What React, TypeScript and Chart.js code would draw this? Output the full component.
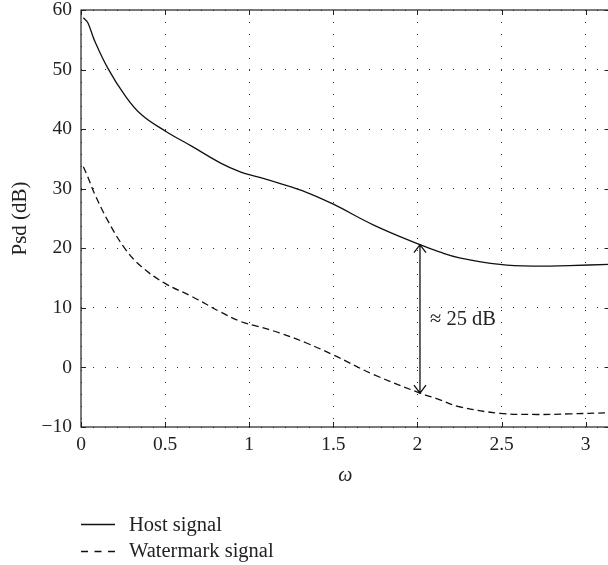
import React, { useEffect, useRef } from 'react';
import { Chart, registerables } from 'chart.js';

Chart.register(...registerables);

// ---- data ----
const omega = [0.014, 0.04, 0.08, 0.16, 0.26, 0.36, 0.5, 0.66, 0.83, 0.95, 1.05, 1.18, 1.34, 1.5, 1.74, 2.015, 2.13, 2.25, 2.49, 2.71, 2.9, 3.14];
const hostPsd = [58.7, 57.9, 54.9, 50.2, 45.7, 42.4, 39.7, 37.1, 34.3, 32.8, 32.0, 30.9, 29.4, 27.4, 23.9, 20.6, 19.4, 18.4, 17.3, 17.0, 17.1, 17.3];
const watermarkPsd = [33.7, 32.0, 29.2, 24.6, 20.0, 16.9, 14.1, 11.9, 9.3, 7.7, 6.9, 5.8, 4.1, 2.1, -1.2, -4.3, -5.4, -6.6, -7.7, -7.9, -7.8, -7.6];
const seriesLabels = ['Host signal', 'Watermark signal'];
const xTicks = [0, 0.5, 1, 1.5, 2, 2.5, 3];
const yTicks = [-10, 0, 10, 20, 30, 40, 50, 60];
const xTitle = 'ω';
const yTitle = 'Psd (dB)';
const arrowOmega = 2.015;
const arrowTop = 20.6;
const arrowBottom = -4.3;
const annotationText = '≈ 25 dB';
const annotationOmega = 2.075;
const annotationValue = 7.15;

const FONT = "'Liberation Serif', 'DejaVu Serif', serif";
const INK = '#222';
const DASH = [7, 4];

const framePlugin = {
  id: 'frame',
  afterDatasetsDraw(chart: any) {
    const { ctx, chartArea, scales } = chart;
    const x = scales.x;
    const y = scales.y;
    const { left, right, top, bottom } = chartArea;
    ctx.save();
    ctx.strokeStyle = INK;
    ctx.lineWidth = 1.2;
    ctx.setLineDash([]);
    ctx.strokeRect(left, top, right - left, bottom - top);
    const tl = 5;
    ctx.lineWidth = 1;
    ctx.beginPath();
    xTicks.forEach((v) => {
      const px = Math.round(x.getPixelForValue(v)) + 0.5;
      ctx.moveTo(px, bottom); ctx.lineTo(px, bottom - tl);
      ctx.moveTo(px, top); ctx.lineTo(px, top + tl);
    });
    yTicks.forEach((v) => {
      const py = Math.round(y.getPixelForValue(v)) + 0.5;
      ctx.moveTo(left, py); ctx.lineTo(left + tl, py);
      ctx.moveTo(right, py); ctx.lineTo(right - tl, py);
    });
    ctx.stroke();

    const ax = x.getPixelForValue(arrowOmega);
    const ay1 = y.getPixelForValue(arrowTop);
    const ay2 = y.getPixelForValue(arrowBottom);
    ctx.lineWidth = 1.3;
    ctx.strokeStyle = '#111';
    ctx.beginPath();
    ctx.moveTo(ax, ay1); ctx.lineTo(ax, ay2);
    ctx.moveTo(ax - 6, ay1 + 8); ctx.lineTo(ax, ay1); ctx.lineTo(ax + 6, ay1 + 8);
    ctx.moveTo(ax - 6, ay2 - 8); ctx.lineTo(ax, ay2); ctx.lineTo(ax + 6, ay2 - 8);
    ctx.stroke();

    ctx.fillStyle = INK;
    ctx.font = `20.5px ${FONT}`;
    ctx.textAlign = 'left';
    ctx.textBaseline = 'alphabetic';
    ctx.fillText(annotationText, x.getPixelForValue(annotationOmega), y.getPixelForValue(annotationValue));

    const lx1 = 81, lx2 = 115, tx = 129;
    const rows = [
      { label: seriesLabels[0], dash: [] as number[], ly: 524, ty: 530.5 },
      { label: seriesLabels[1], dash: [7, 6.5], ly: 551, ty: 557 },
    ];
    rows.forEach((r) => {
      ctx.beginPath();
      ctx.setLineDash(r.dash);
      ctx.lineWidth = 1.3;
      ctx.strokeStyle = '#111';
      ctx.moveTo(lx1, r.ly + 0.5); ctx.lineTo(lx2, r.ly + 0.5);
      ctx.stroke();
      ctx.setLineDash([]);
      ctx.fillText(r.label, tx, r.ty);
    });
    ctx.restore();
  },
};

export default function App() {
  const ref = useRef<HTMLCanvasElement>(null);
  useEffect(() => {
    if (!ref.current) return;
    const chart = new Chart(ref.current, {
      type: 'line',
      data: {
        datasets: [
          {
            label: seriesLabels[0],
            data: omega.map((w, i) => ({ x: w, y: hostPsd[i] })),
            borderColor: '#111',
            borderWidth: 1.3,
            pointRadius: 0,
            tension: 0.4,
            fill: false,
          },
          {
            label: seriesLabels[1],
            data: omega.map((w, i) => ({ x: w, y: watermarkPsd[i] })),
            borderColor: '#111',
            borderWidth: 1.3,
            borderDash: DASH,
            pointRadius: 0,
            tension: 0.4,
            fill: false,
          },
        ],
      },
      options: {
        animation: false,
        responsive: false,
        events: [],
        layout: { padding: { top: 10, right: 4.5, bottom: 76.8, left: 0 } },
        plugins: { legend: { display: false }, tooltip: { enabled: false } },
        scales: {
          x: {
            type: 'linear',
            min: 0,
            max: Math.PI,
            afterBuildTicks: (s: any) => { s.ticks = xTicks.map((v) => ({ value: v })); },
            afterFit: (s: any) => { s.height = 61.2; s.paddingLeft = 0; s.paddingRight = 0; },
            grid: { color: '#333', lineWidth: 1, drawTicks: false },
            border: { display: false, dash: [1, 11] },
            ticks: {
              color: INK,
              font: { family: FONT, size: 19.5 },
              padding: 6,
              maxRotation: 0,
              callback: (v: any) => String(v),
            },
            title: {
              display: true,
              text: xTitle,
              color: INK,
              font: { family: FONT, size: 20, style: 'italic' },
              padding: { top: 0, bottom: 0 },
            },
          },
          y: {
            type: 'linear',
            min: -10,
            max: 60,
            afterBuildTicks: (s: any) => { s.ticks = yTicks.map((v) => ({ value: v })); },
            afterFit: (s: any) => { s.width = 81; s.paddingTop = 0; s.paddingBottom = 0; },
            grid: { color: '#333', lineWidth: 1, drawTicks: false },
            border: { display: false, dash: [1, 11] },
            ticks: {
              color: INK,
              font: { family: FONT, size: 19.5 },
              padding: 9,
              callback: (v: any) => String(v).replace('-', '−'),
            },
            title: {
              display: true,
              text: yTitle,
              color: INK,
              font: { family: FONT, size: 21 },
              padding: { top: 8, bottom: 0 },
            },
          },
        },
      },
      plugins: [framePlugin],
    } as any);
    return () => chart.destroy();
  }, []);
  return (
    <div style={{ position: 'fixed', left: 0, top: 0, width: 608, height: 565, overflow: 'hidden', background: '#fff' }}>
      <canvas ref={ref} width={614} height={565} style={{ display: 'block' }} />
    </div>
  );
}
